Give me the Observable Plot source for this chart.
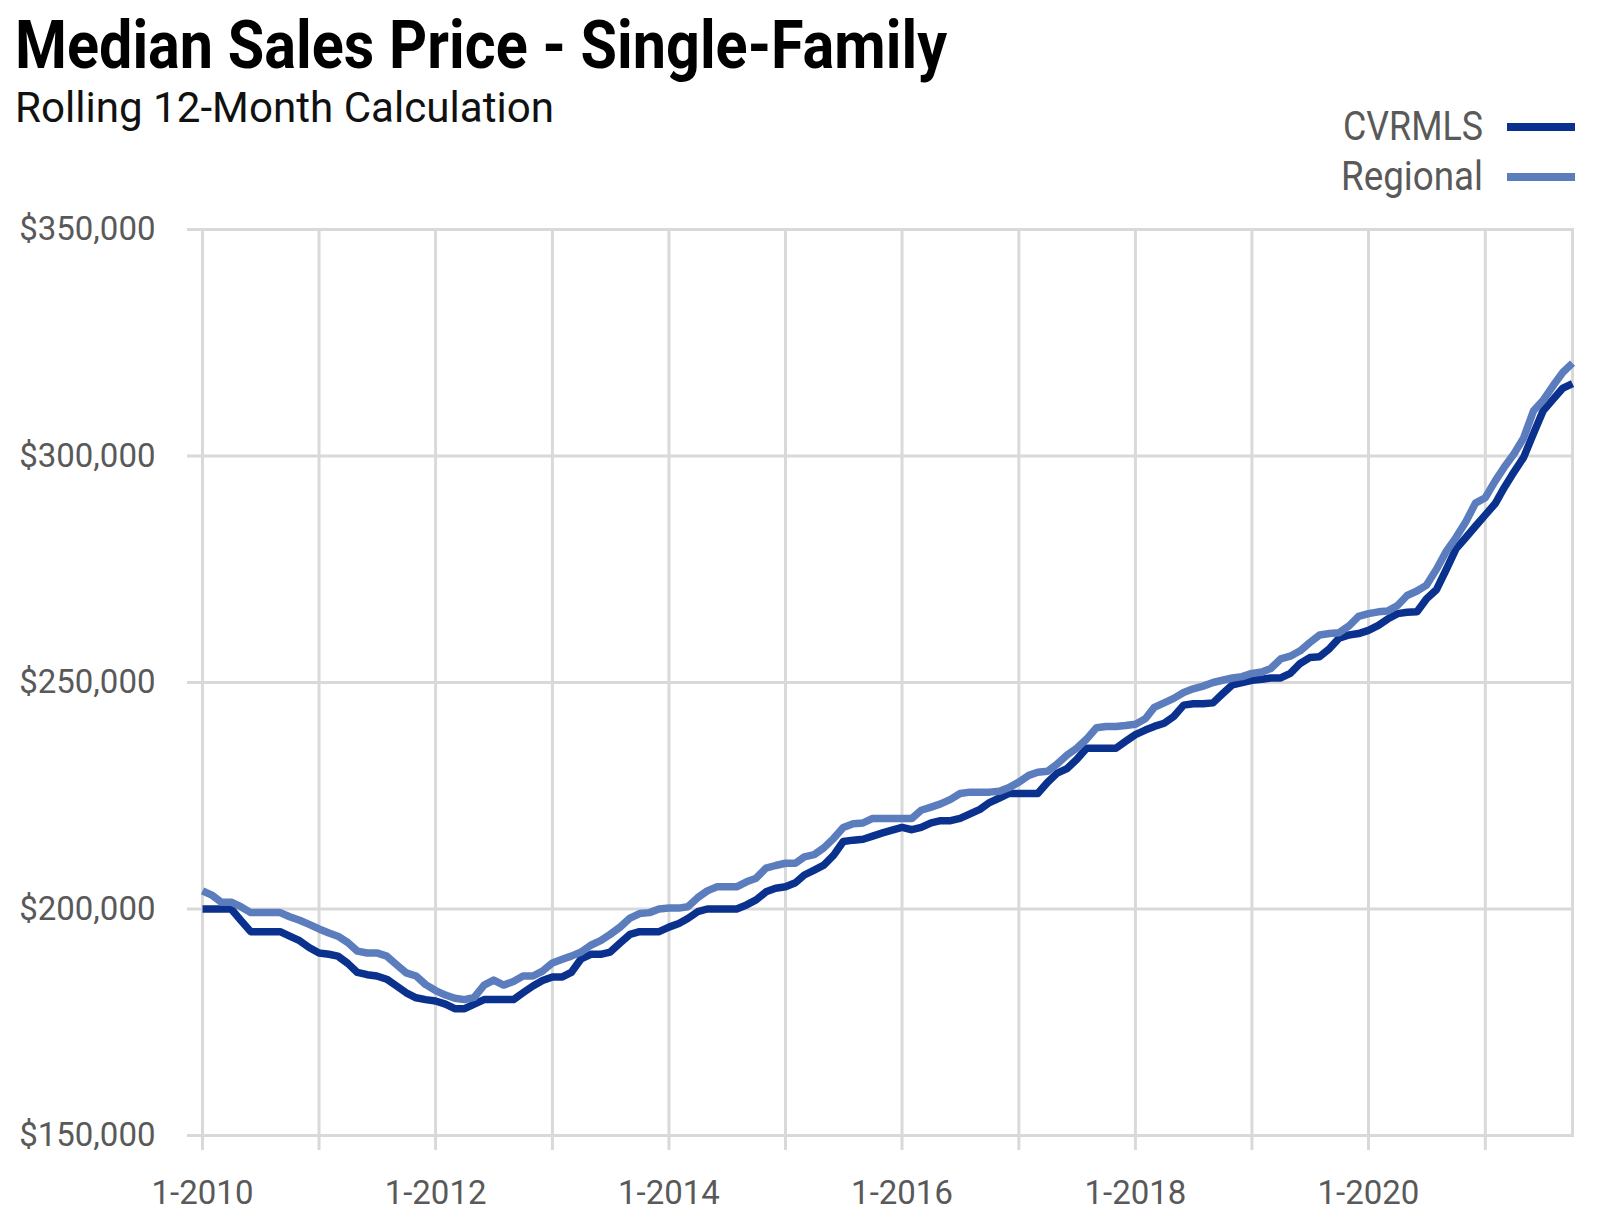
<!DOCTYPE html>
<html><head><meta charset="utf-8">
<script src="https://cdn.jsdelivr.net/npm/d3@7"></script>
<script src="https://cdn.jsdelivr.net/npm/@observablehq/plot@0.6"></script>
<style>
html,body{margin:0;padding:0;background:#fff;}
#wrap{width:1600px;}
svg{display:block;}
</style></head><body>
<div id="wrap">
<svg id="header" width="1600" height="205"></svg>
<div id="chart"></div>
</div>
<script>
const titleText = "Median Sales Price - Single-Family";
const subtitleText = "Rolling 12-Month Calculation";
const seriesNames = ["CVRMLS", "Regional"];
const seriesColors = ["#0b318f", "#5b7dbd"];
const yTicks = [150000, 200000, 250000, 300000, 350000];
const gridYears = [2010, 2011, 2012, 2013, 2014, 2015, 2016, 2017, 2018, 2019, 2020, 2021];
const xTickLabels = ["1-2010", "1-2012", "1-2014", "1-2016", "1-2018", "1-2020"];

// monthly values, Jan 2010 .. Oct 2021, in $ thousands
const cvrmls = [
  200, 200, 200, 200, 197.5, 195, 195, 195, 195, 194, 193, 191.5,
  190.3, 190, 189.6, 188, 186, 185.5, 185.2, 184.5, 183, 181.5, 180.4, 180,
  179.7, 179, 178, 178, 179, 180, 180, 180, 180, 181.5, 183, 184.2,
  185, 185, 186, 189, 190, 190, 190.5, 192.5, 194.4, 195, 195, 195,
  196, 196.8, 197.9, 199.4, 200, 200, 200, 200, 200.9, 202, 203.8, 204.6,
  204.9, 205.8, 207.5, 208.6, 209.7, 211.9, 214.9, 215.2, 215.4, 216.1, 216.8, 217.4,
  218, 217.5, 218, 219, 219.5, 219.5, 220, 221, 222, 223.5, 224.5, 225.5,
  225.5, 225.5, 225.5, 228, 230, 231, 233, 235.5, 235.5, 235.5, 235.5, 237,
  238.5, 239.5, 240.3, 241, 242.5, 245, 245.3, 245.3, 245.5, 247.5, 249.5, 250,
  250.5, 250.7, 251, 251, 252, 254.2, 255.5, 255.7, 257.5, 259.8, 260.5, 260.8,
  261.5, 262.6, 264, 265.2, 265.5, 265.6, 268.5, 270.5, 275, 279.5, 282, 284.5,
  287, 289.5, 293, 296.5, 299.7, 305, 310, 312.5, 315, 316
];
const regional = [
  204, 203, 201.5, 201.5, 200.5, 199.2, 199.2, 199.2, 199.2, 198.3, 197.5, 196.6,
  195.6, 194.7, 194, 192.6, 190.7, 190.3, 190.3, 189.6, 187.7, 185.9, 185.2, 183.3,
  182, 181, 180.3, 180, 180.5, 183.2, 184.3, 183.2, 184, 185.2, 185.2, 186.3,
  188.1, 188.9, 189.6, 190.5, 192, 193, 194.4, 196, 198, 199, 199.2, 200,
  200.2, 200.2, 200.5, 202.5, 204, 204.9, 204.9, 204.9, 206, 206.8, 209, 209.6,
  210.1, 210.1, 211.5, 212, 213.5, 215.6, 218, 218.8, 219, 220, 220, 220,
  220, 220, 221.8, 222.5, 223.2, 224.2, 225.5, 225.8, 225.8, 225.8, 226, 226.8,
  228, 229.5, 230.2, 230.4, 232, 234, 235.5, 237.5, 240, 240.3, 240.3, 240.5,
  240.8, 242, 244.5, 245.5, 246.5, 247.8, 248.6, 249.2, 250, 250.5, 251, 251.3,
  252, 252.3, 253.1, 255.2, 255.8, 257, 258.8, 260.5, 260.8, 261, 262.5, 264.6,
  265.2, 265.6, 265.8, 267, 269.2, 270.2, 271.5, 275, 279, 282, 285.5, 289.6,
  290.8, 294.5, 297.5, 300.5, 304, 310, 312.3, 315.5, 318.5, 320.5
];

const months = d3.utcMonth.range(new Date(Date.UTC(2010, 0, 1)), new Date(Date.UTC(2021, 10, 1)));
const seriesValues = [cvrmls, regional];
const rows = [];
seriesNames.forEach((name, s) => {
  months.forEach((date, i) => rows.push({date, value: seriesValues[s][i] * 1000, series: name}));
});
const yearDates = gridYears.map(y => new Date(Date.UTC(y, 0, 1)));
const gridColor = "#d9d9d9";
const labelColor = "#595959";

// Header: title, subtitle, legend
const header = d3.select("#header");
header.append("text").attr("x", 15).attr("y", 68)
  .attr("font-family", "Roboto").attr("font-weight", 700).attr("font-size", 66)
  .attr("fill", "#000").attr("textLength", 932).attr("lengthAdjust", "spacingAndGlyphs")
  .text(titleText);
header.append("text").attr("x", 15).attr("y", 122)
  .attr("font-family", "Roboto").attr("font-weight", 400).attr("font-size", 43)
  .attr("fill", "#111").attr("textLength", 539).attr("lengthAdjust", "spacingAndGlyphs")
  .text(subtitleText);
seriesNames.forEach((name, i) => {
  const cy = 127 + i * 50;
  header.append("text").attr("x", 1483).attr("y", cy + 13)
    .attr("text-anchor", "end")
    .attr("font-family", "Roboto").attr("font-size", 41).attr("fill", labelColor)
    .attr("textLength", i === 0 ? 140 : 142).attr("lengthAdjust", "spacingAndGlyphs")
    .text(name);
  header.append("line").attr("x1", 1507).attr("x2", 1575).attr("y1", cy).attr("y2", cy)
    .attr("stroke", seriesColors[i]).attr("stroke-width", 8);
});

const chart = Plot.plot({
  width: 1600,
  height: 1018,
  marginTop: 24,
  marginBottom: 88,
  marginLeft: 202,
  marginRight: 28,
  style: {fontFamily: "Roboto", fontSize: "33px", color: labelColor, background: "#fff"},
  x: {type: "utc", domain: [months[0], months[months.length - 1]], label: null},
  y: {domain: [150000, 350000], label: null},
  color: {domain: seriesNames, range: seriesColors},
  marks: [
    Plot.gridY(yTicks, {stroke: gridColor, strokeWidth: 3, strokeOpacity: 1}),
    Plot.gridX(yearDates, {stroke: gridColor, strokeWidth: 3, strokeOpacity: 1}),
    Plot.frame({stroke: gridColor, strokeWidth: 3}),
    Plot.axisY(yTicks, {
      tickSize: 15, tickPadding: 32, stroke: gridColor, strokeWidth: 3, strokeOpacity: 1,
      fill: labelColor, fontSize: 33,
      tickFormat: d => "$" + d3.format(",")(d)
    }),
    Plot.axisX(yearDates, {
      tickSize: 15, tickPadding: 30, stroke: gridColor, strokeWidth: 3, strokeOpacity: 1,
      fill: labelColor, fontSize: 33,
      tickFormat: d => {
        const s = `${d.getUTCMonth() + 1}-${d.getUTCFullYear()}`;
        return xTickLabels.includes(s) ? s : "";
      }
    }),
    Plot.line(rows, {
      x: "date", y: "value", z: "series", stroke: "series",
      strokeWidth: 7.5, strokeLinejoin: "round", strokeLinecap: "butt"
    })
  ]
});
document.getElementById("chart").appendChild(chart);
</script>
</body></html>
